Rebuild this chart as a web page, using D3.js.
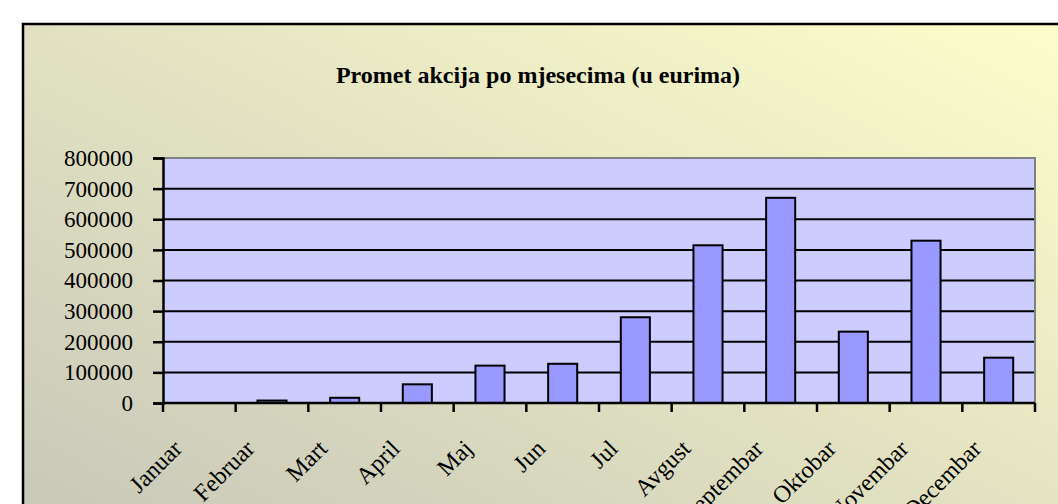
<!DOCTYPE html>
<html>
<head>
<meta charset="utf-8">
<script src="https://cdn.jsdelivr.net/npm/d3@7"></script>
<style>
  body { margin: 0; background: #fff; overflow: hidden; }
  text { font-family: "Liberation Serif", "Times New Roman", serif; fill: #000; }
</style>
</head>
<body>
<script>
// chart data
const months = ['Januar', 'Februar', 'Mart', 'April', 'Maj', 'Jun', 'Jul',
  'Avgust', 'Septembar', 'Oktobar', 'Novembar', 'Decembar'];
const turnover = [0, 8000, 17000, 61000, 122000, 128000, 280000,
  515000, 670000, 233000, 530000, 148000];
const yTicks = [0, 100000, 200000, 300000, 400000, 500000, 600000, 700000, 800000];
const title = 'Promet akcija po mjesecima (u eurima)';

const W = 1058, H = 504;
const plot = { left: 163, right: 1035, top: 158, bottom: 403 };

const svg = d3.select('body').append('svg')
  .attr('width', W)
  .attr('height', H);

// background gradient (grey-ish bottom left to pale yellow top right)
const defs = svg.append('defs');
const grad = defs.append('linearGradient')
  .attr('id', 'bg')
  .attr('x1', 0).attr('y1', 1)
  .attr('x2', 1).attr('y2', 0);
grad.append('stop').attr('offset', '0%').attr('stop-color', '#c4c4b8');
grad.append('stop').attr('offset', '100%').attr('stop-color', '#ffffcc');

svg.append('rect')
  .attr('x', 23).attr('y', 24)
  .attr('width', 1100).attr('height', 560)
  .attr('fill', 'url(#bg)')
  .attr('stroke', '#000')
  .attr('stroke-width', 2.5);

svg.append('text')
  .attr('x', 538)
  .attr('y', 83)
  .attr('text-anchor', 'middle')
  .attr('font-size', '24px')
  .attr('font-weight', 'bold')
  .text(title);

// scales
const xBand = d3.scaleBand()
  .domain(months)
  .range([plot.left, plot.right]);

const y = d3.scaleLinear()
  .domain([0, 800000])
  .range([plot.bottom, plot.top]);

// plot area
svg.append('rect')
  .attr('x', plot.left).attr('y', plot.top)
  .attr('width', plot.right - plot.left)
  .attr('height', plot.bottom - plot.top)
  .attr('fill', '#ccccff');

// gridlines
svg.append('g')
  .selectAll('line')
  .data(yTicks.filter(d => d > 0 && d < 800000))
  .enter().append('line')
  .attr('x1', plot.left).attr('x2', plot.right)
  .attr('y1', d => y(d)).attr('y2', d => y(d))
  .attr('stroke', '#000')
  .attr('stroke-width', 2);

// plot border top / right
svg.append('path')
  .attr('d', `M${plot.left},${plot.top}H${plot.right}V${plot.bottom}`)
  .attr('fill', 'none')
  .attr('stroke', '#808080')
  .attr('stroke-width', 2);

// bars
const bw = xBand.bandwidth() / 2.5;
svg.append('g')
  .selectAll('.bar')
  .data(months)
  .enter().append('rect')
  .attr('class', 'bar')
  .attr('x', d => xBand(d) + (xBand.bandwidth() - bw) / 2)
  .attr('y', (d, i) => y(turnover[i]))
  .attr('width', bw)
  .attr('height', (d, i) => plot.bottom - y(turnover[i]))
  .attr('fill', '#9999ff')
  .attr('stroke', '#000')
  .attr('stroke-width', 2);

// y axis
const yAxis = svg.append('g')
  .attr('transform', `translate(${plot.left},0)`)
  .call(d3.axisLeft(y).tickValues(yTicks).tickSize(10).tickPadding(20).tickFormat(d3.format('d')));
yAxis.select('.domain').attr('stroke', '#000').attr('stroke-width', 2.5);
yAxis.selectAll('.tick line').attr('stroke', '#000').attr('stroke-width', 2.5);
yAxis.selectAll('.tick text')
  .attr('font-size', '23px')
  .attr('font-family', '"Liberation Serif", serif')
  .attr('fill', '#000');

// x axis: ticks on category boundaries
const bounds = months.map(m => xBand(m)).concat([plot.right]);
svg.append('line')
  .attr('x1', plot.left).attr('x2', plot.right)
  .attr('y1', plot.bottom).attr('y2', plot.bottom)
  .attr('stroke', '#000').attr('stroke-width', 2.5);
svg.append('g')
  .selectAll('line')
  .data(bounds)
  .enter().append('line')
  .attr('x1', d => d).attr('x2', d => d)
  .attr('y1', plot.bottom).attr('y2', plot.bottom + 9)
  .attr('stroke', '#000').attr('stroke-width', 2.5);

svg.append('g')
  .selectAll('text')
  .data(months)
  .enter().append('text')
  .attr('text-anchor', 'end')
  .attr('font-size', '24px')
  .attr('transform', d => `translate(${xBand(d) + xBand.bandwidth() / 2 - 16},450) rotate(-45)`)
  .text(d => d);
</script>
</body>
</html>
